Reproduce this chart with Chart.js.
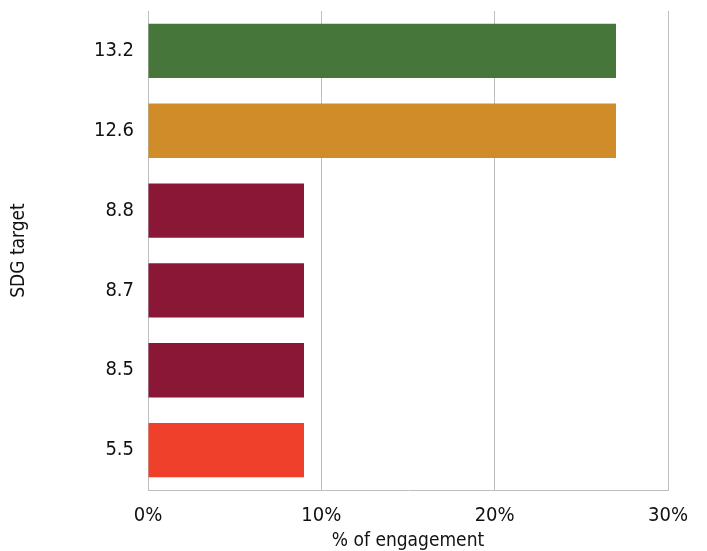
<!DOCTYPE html>
<html>
<head>
<meta charset="utf-8">
<script src="https://cdn.jsdelivr.net/npm/chart.js@4"></script>
<style>
  html, body { margin: 0; padding: 0; background: #fff; }
  #wrap { width: 707px; height: 551px; }
</style>
</head>
<body>
<div id="wrap"><canvas id="c"></canvas></div>
<script>
const targets = ['13.2', '12.6', '8.8', '8.7', '8.5', '5.5'];
const engagement = [27, 27, 9, 9, 9, 9];
const barColors = ['#47763B', '#CF8C29', '#8B1736', '#8B1736', '#8B1736', '#EE402B'];
const xTicks = [0, 10, 20, 30];

const fontFam = "'Liberation Sans Narrow', 'DejaVu Sans Condensed', sans-serif";
Chart.defaults.font.family = fontFam;
Chart.defaults.color = '#111';

const ctx = document.getElementById('c').getContext('2d');
const chart = new Chart(ctx, {
  type: 'bar',
  data: {
    labels: targets,
    datasets: [{
      data: engagement,
      backgroundColor: barColors,
      borderWidth: 0,
      categoryPercentage: 1,
      barPercentage: 0.68
    }]
  },
  options: {
    indexAxis: 'y',
    responsive: true,
    maintainAspectRatio: false,
    animation: false,
    layout: { padding: { top: 11, right: 39, left: 8, bottom: 0 } },
    plugins: {
      legend: { display: false },
      tooltip: { enabled: false }
    },
    scales: {
      x: {
        min: 0,
        max: 30,
        afterBuildTicks: axis => { axis.ticks = xTicks.map(v => ({ value: v })); },
        grid: { color: '#BDBDBD', lineWidth: 1, drawTicks: false },
        border: { color: '#BDBDBD' },
        ticks: {
          color: '#111',
          font: { size: 20 },
          padding: 14,
          callback: v => v + '%'
        },
        title: {
          display: true,
          text: '% of engagement',
          color: '#111',
          font: { size: 19 },
          padding: { top: 0, bottom: -1 }
        },
        afterFit: axis => { axis.height = 61; axis.paddingLeft = 0; axis.paddingRight = 0; }
      },
      y: {
        grid: { display: false, drawTicks: false },
        border: { color: '#BDBDBD' },
        ticks: {
          color: '#111',
          font: { size: 20 },
          padding: 14
        },
        title: {
          display: true,
          text: 'SDG target',
          color: '#111',
          font: { size: 19 },
          padding: { top: 0, bottom: 0 }
        },
        afterFit: axis => { axis.width = 140; axis.paddingTop = 0; axis.paddingBottom = 0; }
      }
    }
  }
});
</script>
</body>
</html>
